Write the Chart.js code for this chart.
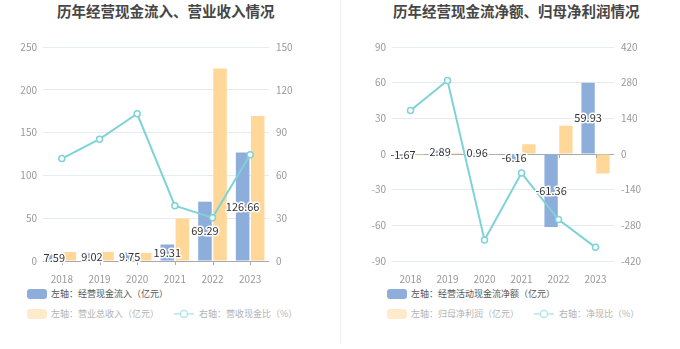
<!DOCTYPE html>
<html>
<head>
<meta charset="utf-8">
<script src="https://cdn.jsdelivr.net/npm/chart.js@4.4.0/dist/chart.umd.min.js"></script>
<style>
 body { margin: 0; width: 680px; height: 349px; background: #fff; overflow: hidden; position: relative; font-family: "Noto Sans CJK SC", sans-serif; }
 .panel { position: absolute; top: 0; width: 340px; height: 349px; }
 .divider { position: absolute; left: 340px; top: 0; width: 1px; height: 344px; background: #efefef; }
 .title { position: absolute; top: 0; font-size: 14.5px; font-weight: bold; color: #464646; white-space: nowrap; line-height: 21px; }
 canvas { position: absolute; left: 0; top: 0; }
 .leg { position: absolute; font-size: 9px; line-height: 12px; white-space: nowrap; color: #555; }
 .leg.off { color: #b4b4b4; }
 .sq { position: absolute; width: 20px; height: 10px; border-radius: 3px; }
 .ln { position: absolute; width: 20px; height: 10px; }
</style>
</head>
<body>
<div class="divider"></div>

<div class="panel" style="left:0">
 <div class="title" style="left:57px">历年经营现金流入、营业收入情况</div>
 <canvas id="chart-inflow" width="340" height="285"></canvas>
 <div class="sq" style="left:27px;top:289px;background:#8DAEDB"></div>
 <div class="leg" style="left:51px;top:288px">左轴：经营现金流入（亿元）</div>
 <div class="sq" style="left:27px;top:309px;background:#FFEBCB"></div>
 <div class="leg off" style="left:51px;top:308px">左轴：营业总收入（亿元）</div>
 <svg class="ln" style="left:174px;top:309px" viewBox="0 0 20 10"><line x1="0" y1="5" x2="20" y2="5" stroke="#B6E6E9" stroke-width="1.5"/><circle cx="10" cy="5" r="3.5" fill="#fff" stroke="#B6E6E9" stroke-width="1.5"/></svg>
 <div class="leg off" style="left:199px;top:308px">右轴：营收现金比（%）</div>
</div>

<div class="panel" style="left:340px">
 <div class="title" style="left:53px">历年经营现金流净额、归母净利润情况</div>
 <canvas id="chart-net" width="340" height="285"></canvas>
 <div class="sq" style="left:47px;top:289px;background:#8DAEDB"></div>
 <div class="leg" style="left:71px;top:288px">左轴：经营活动现金流净额（亿元）</div>
 <div class="sq" style="left:47px;top:309px;background:#FFEBCB"></div>
 <div class="leg off" style="left:71px;top:308px">左轴：归母净利润（亿元）</div>
 <svg class="ln" style="left:194px;top:309px" viewBox="0 0 20 10"><line x1="0" y1="5" x2="20" y2="5" stroke="#B6E6E9" stroke-width="1.5"/><circle cx="10" cy="5" r="3.5" fill="#fff" stroke="#B6E6E9" stroke-width="1.5"/></svg>
 <div class="leg off" style="left:219px;top:308px">右轴：净现比（%）</div>
</div>

<script>
var years = ["2018", "2019", "2020", "2021", "2022", "2023"];

// left chart
var cashInflow = [7.59, 9.02, 9.75, 19.31, 69.29, 126.66];
var revenue = [10.5, 10.6, 9.5, 49.6, 225, 169.5];
var cashRevenueRatio = [71.8, 85.4, 103.2, 38.8, 30.4, 74.4];
var inflowLeftTicks = [0, 50, 100, 150, 200, 250];
var inflowRightTicks = [0, 30, 60, 90, 120, 150];

// right chart
var netCashFlow = [-1.67, 2.89, 0.96, -6.16, -61.36, 59.93];
var netProfit = [-0.98, 1.0, -0.28, 8.2, 23.8, -16.4];
var netCashRatio = [170.6, 288.8, -337.5, -74.8, -257.3, -366.4];
var netLeftTicks = [-90, -60, -30, 0, 30, 60, 90];
var netRightTicks = [-420, -280, -140, 0, 140, 280, 420];

var FONT = "'Noto Sans CJK SC', sans-serif";
var BLUE = "#8DAEDB";
var ORANGE = "#FFD899";
var TEAL = "#7ED3D7";

// bar value labels in the middle of the blue bars, plus small ticks on the zero line
var barLabels = {
 id: "barLabels",
 afterDatasetsDraw: function (chart) {
  var ctx = chart.ctx;
  var zeroY = chart.scales.y.getPixelForValue(0);
  ctx.save();
  ctx.strokeStyle = "#aaa";
  ctx.lineWidth = 1;
  chart.scales.x.ticks.forEach(function (t, i) {
   var x = Math.round(chart.scales.x.getPixelForTick(i)) + 0.5;
   ctx.beginPath();
   ctx.moveTo(x, zeroY);
   ctx.lineTo(x, zeroY + 4);
   ctx.stroke();
  });
  var meta = chart.getDatasetMeta(0);
  var values = chart.data.datasets[0].data;
  ctx.font = "11px " + FONT;
  ctx.textAlign = "center";
  ctx.textBaseline = "middle";
  ctx.lineJoin = "round";
  meta.data.forEach(function (bar, i) {
   var y = (bar.y + bar.base) / 2;
   var txt = values[i].toFixed(2);
   ctx.strokeStyle = "#fff";
   ctx.lineWidth = 3;
   ctx.strokeText(txt, bar.x, y);
   ctx.fillStyle = "#333";
   ctx.fillText(txt, bar.x, y);
  });
  ctx.restore();
 },
};

function axisTicks(list) {
 return function (scale) {
  scale.ticks = list.map(function (v) {
   return { value: v };
  });
 };
}

function buildChart(id, cfg) {
 var ctx = document.getElementById(id);
 new Chart(ctx, {
  type: "bar",
  data: {
   labels: years,
   datasets: [
    { label: "blue", data: cfg.blue, backgroundColor: BLUE, yAxisID: "y", order: 2 },
    { label: "orange", data: cfg.orange, backgroundColor: ORANGE, yAxisID: "y", order: 2 },
    {
     type: "line",
     label: "ratio",
     data: cfg.ratio,
     yAxisID: "y1",
     borderColor: TEAL,
     borderWidth: 2,
     pointRadius: 3,
     pointBorderWidth: 1.5,
     pointBackgroundColor: "#fff",
     pointBorderColor: TEAL,
     tension: 0,
     order: 1,
    },
   ],
  },
  options: {
   responsive: false,
   animation: false,
   layout: { padding: { top: 47, left: 0, right: 0, bottom: 0 } },
   plugins: { legend: { display: false }, tooltip: { enabled: false } },
   scales: {
    x: {
     grid: { display: false },
     border: { display: false },
     ticks: { color: "#999", font: { size: 10, family: FONT }, padding: 4, maxRotation: 0 },
     afterFit: function (scale) {
      scale.height = 24;
     },
    },
    y: {
     position: "left",
     min: cfg.leftTicks[0],
     max: cfg.leftTicks[cfg.leftTicks.length - 1],
     afterBuildTicks: axisTicks(cfg.leftTicks),
     ticks: { color: "#999", font: { size: 10, family: FONT }, padding: 6 },
     grid: {
      drawTicks: false,
      color: function (c) {
       return c.tick && c.tick.value === 0 ? "#a9a9a9" : "#E6EBF3";
      },
     },
     border: { display: false },
     afterFit: function (scale) {
      scale.width = cfg.leftWidth;
     },
    },
    y1: {
     position: "right",
     min: cfg.rightTicks[0],
     max: cfg.rightTicks[cfg.rightTicks.length - 1],
     afterBuildTicks: axisTicks(cfg.rightTicks),
     ticks: { color: "#999", font: { size: 10, family: FONT }, padding: 7 },
     grid: { drawOnChartArea: false, drawTicks: false },
     border: { display: false },
     afterFit: function (scale) {
      scale.width = cfg.rightWidth;
     },
    },
   },
  },
  plugins: [barLabels],
 });
}

buildChart("chart-inflow", {
 blue: cashInflow,
 orange: revenue,
 ratio: cashRevenueRatio,
 leftTicks: inflowLeftTicks,
 rightTicks: inflowRightTicks,
 leftWidth: 43,
 rightWidth: 71,
});

buildChart("chart-net", {
 blue: netCashFlow,
 orange: netProfit,
 ratio: netCashRatio,
 leftTicks: netLeftTicks,
 rightTicks: netRightTicks,
 leftWidth: 52,
 rightWidth: 66,
});
</script>
</body>
</html>
